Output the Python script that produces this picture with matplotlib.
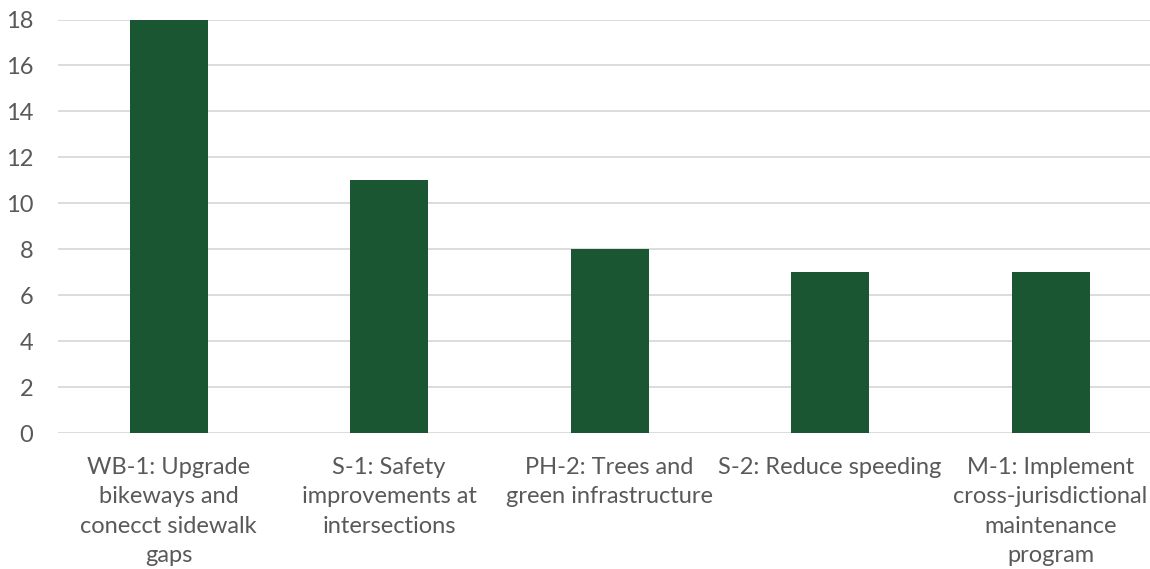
import matplotlib
matplotlib.use("Agg")
import matplotlib.pyplot as plt

categories = [
    "WB-1: Upgrade\nbikeways and\nconecct sidewalk\ngaps",
    "S-1: Safety\nimprovements at\nintersections",
    "PH-2: Trees and\ngreen infrastructure",
    "S-2: Reduce speeding",
    "M-1: Implement\ncross-jurisdictional\nmaintenance\nprogram",
]
values = [18, 11, 8, 7, 7]
yticks = [0, 2, 4, 6, 8, 10, 12, 14, 16, 18]

plt.rcParams['font.family'] = ['Lato', 'DejaVu Sans']
text_color = "#595959"

fig = plt.figure(figsize=(11.5, 5.69), dpi=100)
ax = fig.add_axes([58.3/1150, 1-433/569, (1160.8-58.3)/1150, (433-19.5)/569])
x = list(range(len(categories)))
ax.bar(x, values, width=0.354, color="#1B5632", zorder=3)
ax.set_xlim(-0.5, len(categories)-0.5)
ax.set_ylim(0, 18)
ax.set_yticks(yticks)
ax.set_xticks(x)
ax.set_xticklabels(categories, linespacing=1.5, multialignment='center')
ax.yaxis.grid(True, color="#D9D9D9", linewidth=1.3, zorder=0)
for s in ax.spines.values():
    s.set_visible(False)
ax.tick_params(axis='both', length=0, colors=text_color, labelsize=17)
ax.tick_params(axis='x', pad=17)
ax.tick_params(axis='y', pad=18)
fig.savefig("out.png", dpi=100)
